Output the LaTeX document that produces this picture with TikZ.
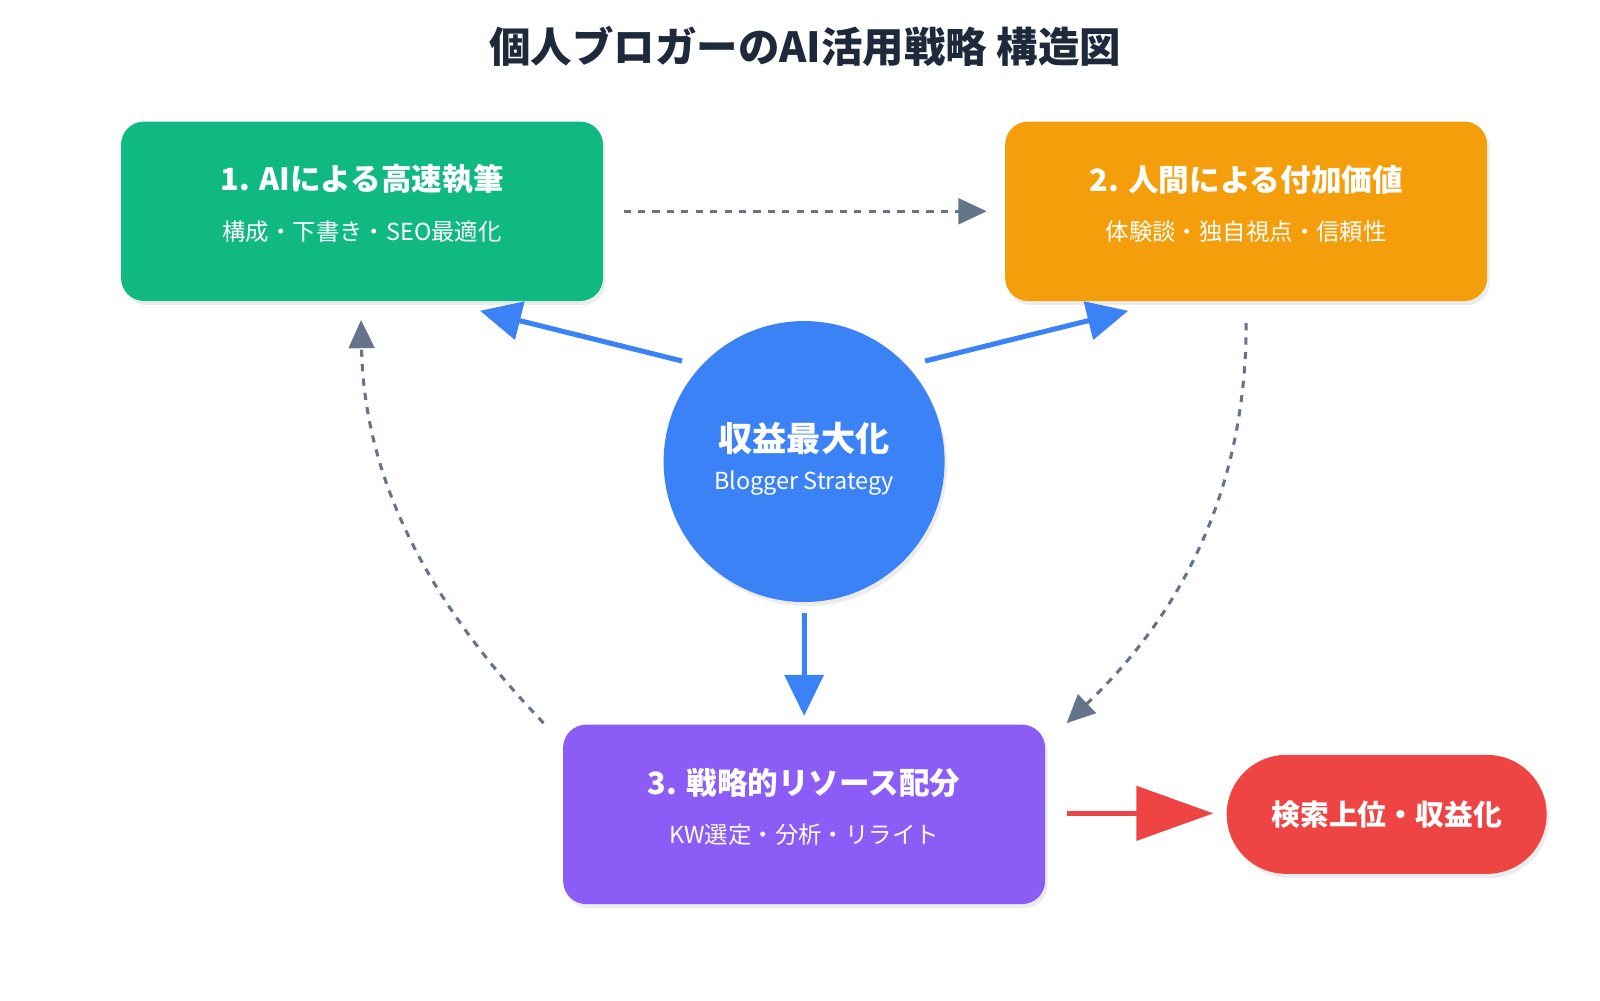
\documentclass[tikz,border=0pt]{standalone}
\usepackage{fontspec}
\setmainfont{Noto Sans CJK JP}
\usetikzlibrary{arrows.meta,shadows}
\definecolor{grn}{HTML}{10B981}
\definecolor{org}{HTML}{F59E0B}
\definecolor{pur}{HTML}{8B5CF6}
\definecolor{blu}{HTML}{3B82F6}
\definecolor{rd}{HTML}{EF4444}
\definecolor{gry}{HTML}{64748B}
\definecolor{ttl}{HTML}{1E293B}
\begin{document}
\begin{tikzpicture}[x=0.02cm,y=-0.02cm,
 box/.style={rounded corners=0.45cm,minimum width=9.4cm,minimum height=3.5cm,text=white,align=center,drop shadow={opacity=0.15,shadow xshift=0.05cm,shadow yshift=-0.08cm}},
 bt/.style={text=white,font=\bfseries\fontsize{17}{20}\selectfont},
 st/.style={text=white,font=\fontsize{13}{15}\selectfont},
 barr/.style={blu,line width=2.8pt,-{Triangle[length=0.8cm,width=0.75cm]}},
 darr/.style={gry,line width=1.7pt,dash pattern=on 4pt off 4pt,-{Triangle[length=0.55cm,width=0.5cm]}}]
\useasboundingbox (0,0) rectangle (1560,975);
\node[text=ttl,font=\bfseries\fontsize{23}{27}\selectfont] (title) at (785,45) {個人ブロガーのAI活用戦略 構造図};
\node[box,fill=grn] (b1) at (353,206) {};
\node[bt] at (353,175) {1. AIによる高速執筆};
\node[st] at (353,226) {構成・下書き・SEO最適化};
\node[box,fill=org] (b2) at (1215,206) {};
\node[bt] at (1215,175) {2. 人間による付加価値};
\node[st] at (1215,226) {体験談・独自視点・信頼性};
\node[box,fill=pur] (b3) at (784,794) {};
\node[bt] at (784,763) {3. 戦略的リソース配分};
\node[st] at (784,814) {KW選定・分析・リライト};
\node[circle,fill=blu,minimum size=5.48cm,drop shadow={opacity=0.15,shadow xshift=0.05cm,shadow yshift=-0.08cm}] (c) at (784,450) {};
\node[text=white,font=\bfseries\fontsize{19}{22}\selectfont] at (784,428) {収益最大化};
\node[text=white,font=\fontsize{13}{15}\selectfont] at (784,471) {Blogger Strategy};
\node[rounded corners=1.16cm,fill=rd,minimum width=6.24cm,minimum height=2.32cm,text=white,font=\bfseries\fontsize{16}{19}\selectfont,drop shadow={opacity=0.15,shadow xshift=0.05cm,shadow yshift=-0.08cm}] (r) at (1352,794) {検索上位・収益化};
\coordinate (a1s) at (665,352); \coordinate (a1e) at (468,303);
\coordinate (a2s) at (902,352); \coordinate (a2e) at (1100,303);
\coordinate (a3s) at (784,598); \coordinate (a3e) at (784,698);
\draw[barr] (a1s) -- (a1e);
\draw[barr] (a2s) -- (a2e);
\draw[barr] (a3s) -- (a3e);
\coordinate (rs) at (1040,793); \coordinate (re) at (1183,793);
\draw[rd,line width=2.8pt,-{Triangle[length=1.5cm,width=1.05cm]}] (rs) -- (re);
\coordinate (d1s) at (608,206); \coordinate (d1e) at (962,206);
\draw[darr] (d1s) -- (d1e);
\coordinate (d2s) at (1215,315); \coordinate (d2e) at (1040,705);
\draw[darr] (d2s) .. controls (1215,480) and (1150,600) .. (d2e);
\coordinate (d3s) at (530,705); \coordinate (d3e) at (352,312);
\draw[darr] (d3s) .. controls (420,590) and (355,470) .. (d3e);
\end{tikzpicture}
\end{document}
